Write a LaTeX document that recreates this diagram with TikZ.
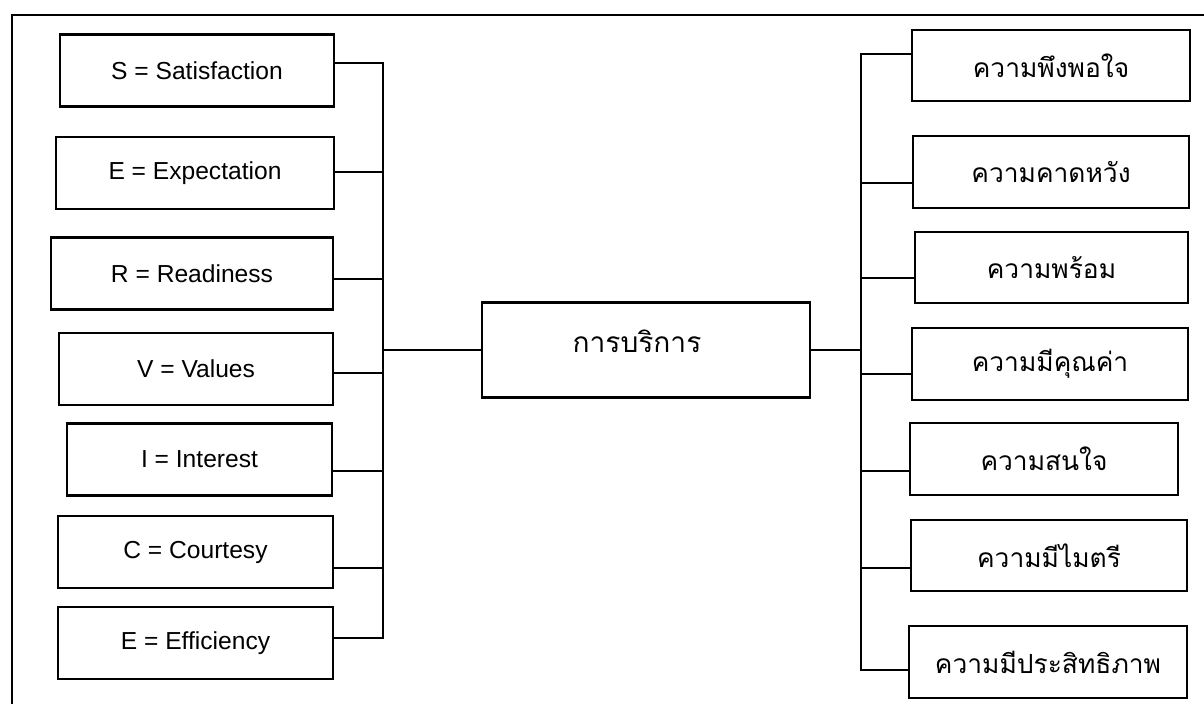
\documentclass[tikz,border=0pt]{standalone}
\usepackage{fontspec}
\setmainfont{Liberation Sans}
\newfontfamily\thaifont[Script=Thai]{Loma}
\usepackage{xcolor}

\begin{document}
\begin{tikzpicture}[x=0.02cm, y=-0.02cm, line width=1.3pt,
    ebox/.style={draw, rectangle, minimum height=1.44cm, font=\fontsize{14}{16}\selectfont},
    tbox/.style={draw, rectangle, minimum height=1.43cm, font=\thaifont\fontsize{15}{17}\selectfont}]
                \useasboundingbox (0,0) rectangle (1204,704);
                % outer frame (only top and left edges show)
                \draw[line width=1.5pt] (12,704) -- (12,15) -- (1204,15);

                % SERVICE letters on the left
                \node[ebox, minimum width=5.48cm] (sat) at (197,70.5) {S = Satisfaction};
                \node[ebox, minimum width=5.56cm] (exp) at (195,173) {E = Expectation};
                \node[ebox, minimum width=5.64cm] (rea) at (192,273.5) {R = Readiness};
                \node[ebox, minimum width=5.48cm] (val) at (196,369) {V = Values};
                \node[ebox, minimum width=5.30cm] (int) at (199.5,459.5) {I = Interest};
                \node[ebox, minimum width=5.50cm] (cou) at (195.5,552) {C = Courtesy};
                \node[ebox, minimum width=5.50cm] (eff) at (195.5,643) {E = Efficiency};

                % the service itself
                \node[draw, rectangle, minimum width=6.56cm, minimum height=1.9cm,
                      text depth=0.36cm, font=\thaifont\fontsize{16}{18}\selectfont]
                      (serv) at (646,350) {การบริการ\kern0.36cm};

                % Thai meanings on the right
                \node[tbox, minimum width=5.56cm] (th1) at (1051,65.5) {ความพึงพอใจ};
                \node[tbox, minimum width=5.52cm] (th2) at (1051,172) {ความคาดหวัง};
                \node[tbox, minimum width=5.46cm] (th3) at (1051.5,267.5) {ความพร้อม};
                \node[tbox, minimum width=5.52cm] (th4) at (1050,364) {ความมีคุณค่า};
                \node[tbox, minimum width=5.36cm] (th5) at (1044,459) {ความสนใจ};
                \node[tbox, minimum width=5.52cm] (th6) at (1049,555.5) {ความมีไมตรี};
                \node[tbox, minimum width=5.56cm] (th7) at (1048,662) {ความมีประสิทธิภาพ};

                \coordinate (lbus) at (383,350);
                \coordinate (rbus) at (861,350);

                % left bracket
                \draw (sat.east |- 0,63) -| (lbus) |- (eff.east |- 0,638);
                \foreach \n/\y in {exp/172, rea/279, val/373, int/471, cou/568}
                    \draw (\n.east |- 0,\y) -- (lbus |- 0,\y);
                \draw (lbus) -- (serv.west);

                % right bracket
                \draw (th1.west |- 0,54) -| (rbus) |- (th7.west |- 0,670);
                \foreach \n/\y in {th2/183, th3/278, th4/374, th5/471, th6/568}
                    \draw (\n.west |- 0,\y) -- (rbus |- 0,\y);
                \draw (serv.east) -- (rbus);
            \end{tikzpicture}
\end{document}
